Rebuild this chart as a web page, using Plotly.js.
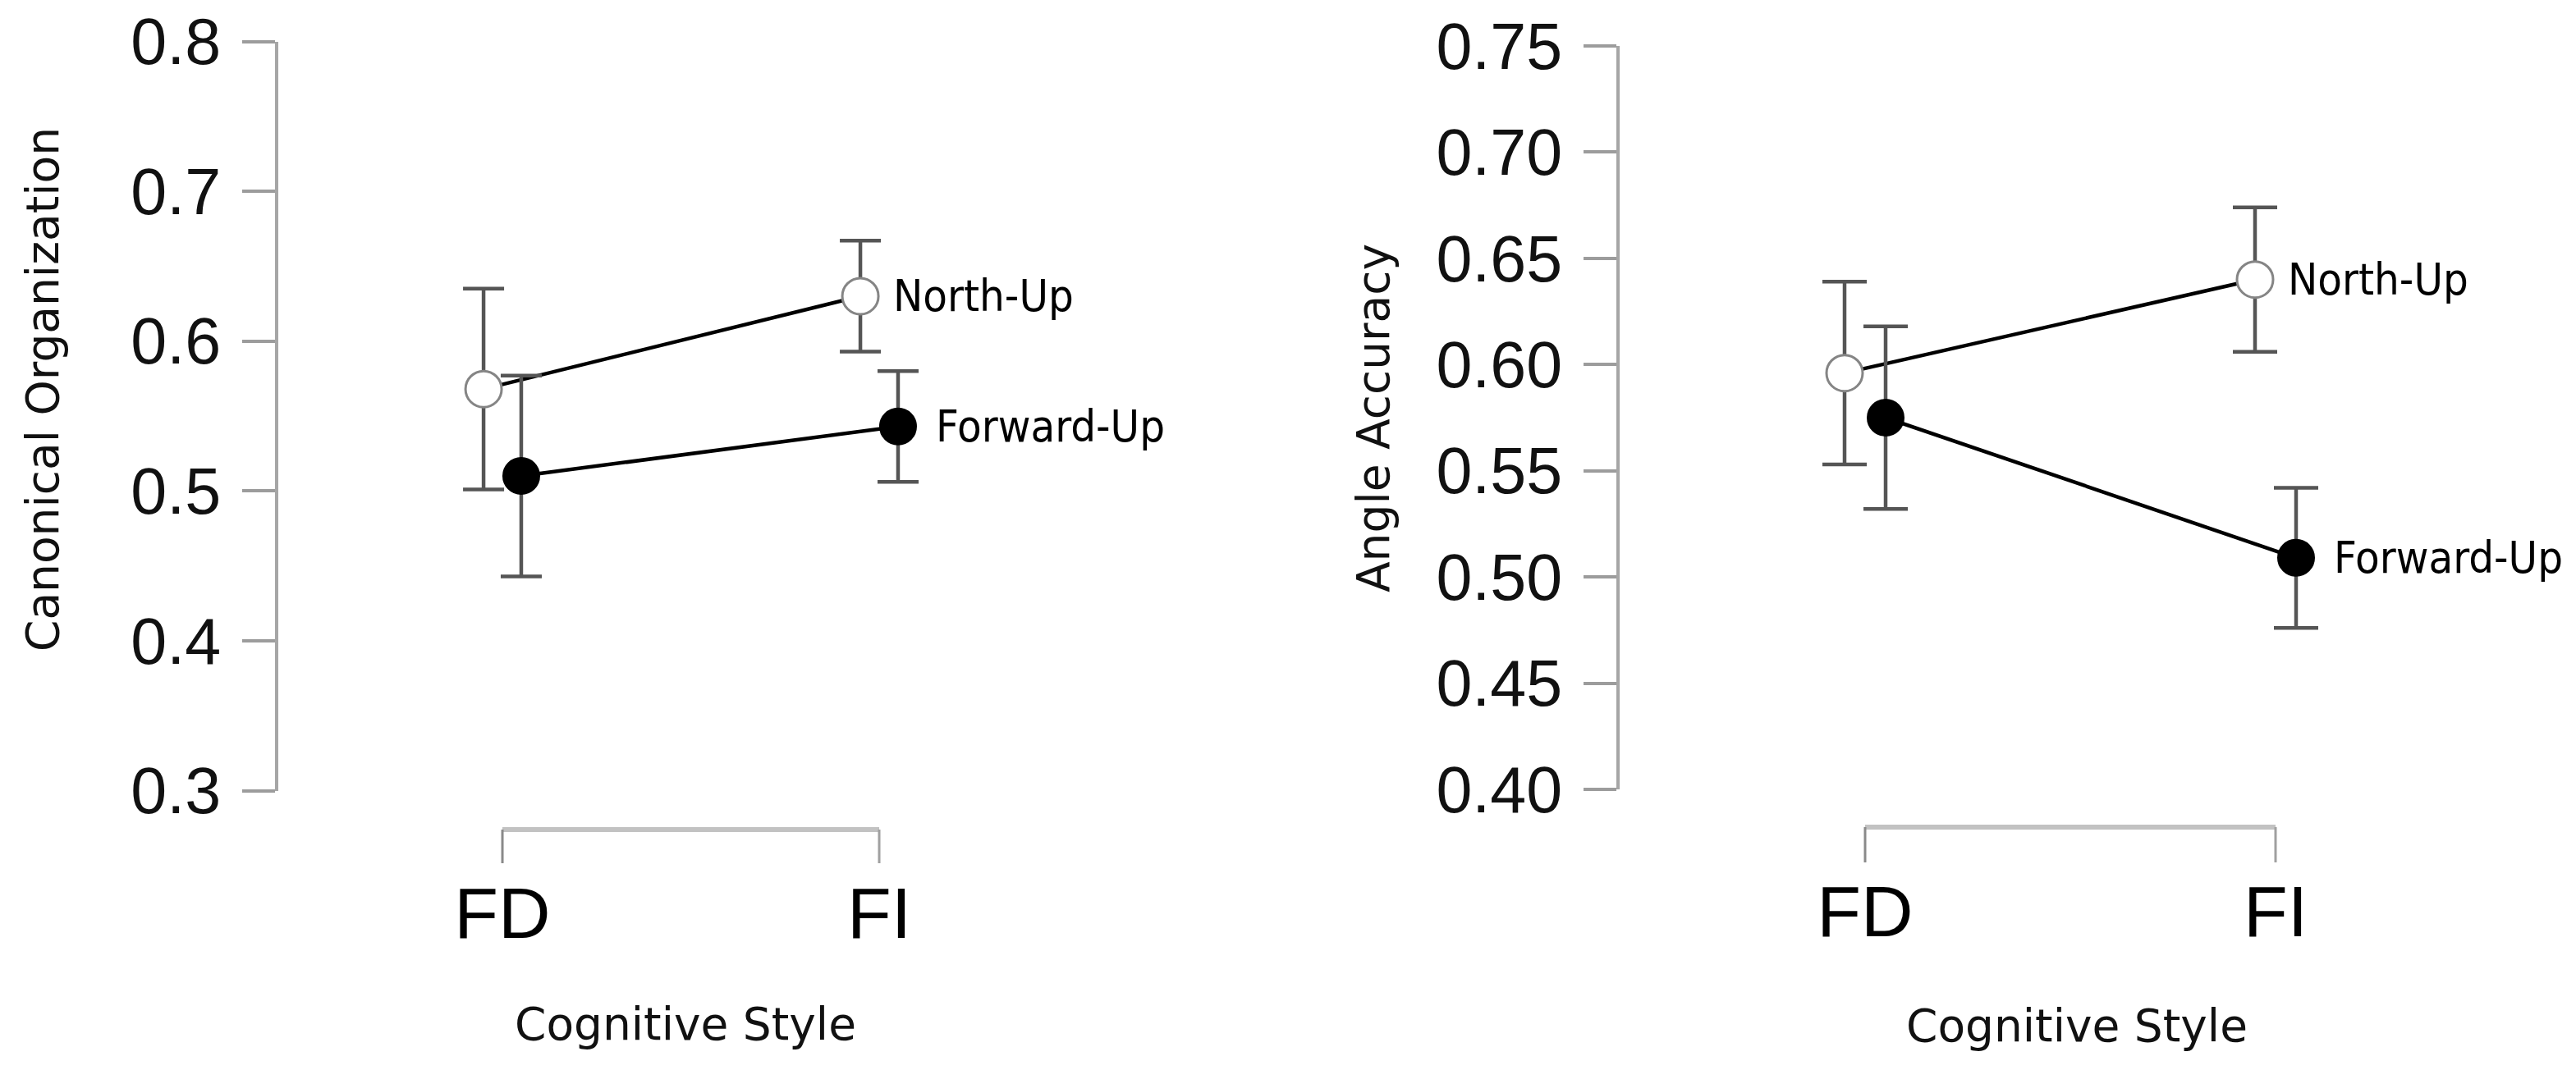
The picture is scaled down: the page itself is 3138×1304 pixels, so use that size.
<!DOCTYPE html>
<html>
<head>
<meta charset="utf-8">
<script src="https://cdn.plot.ly/plotly-3.0.1.min.js"></script>
<style>html,body{margin:0;padding:0;background:#fff;}#chart{width:3138px;height:1304px;}</style>
</head>
<body>
<div id="chart"></div>
<script>
// ---- data ----
const categories = ['FD', 'FI'];
const seriesNames = ['North-Up', 'Forward-Up'];
const xTitle = 'Cognitive Style';
const leftTitle = 'Canonical Organization';
const rightTitle = 'Angle Accuracy';

const canonNorth = [0.568, 0.630];
const canonNorthErr = [0.067, 0.037];
const canonForward = [0.510, 0.543];
const canonForwardErr = [0.067, 0.037];

const angleNorth = [0.596, 0.640];
const angleNorthErr = [0.043, 0.034];
const angleForward = [0.575, 0.509];
const angleForwardErr = [0.043, 0.033];

const canonTicks = [0.3, 0.4, 0.5, 0.6, 0.7, 0.8];
const angleTicks = [0.40, 0.45, 0.50, 0.55, 0.60, 0.65, 0.70, 0.75];

// ---- styling / layout helpers ----
const W = 3138, H = 1304;
const py = px => 1 - px / H;   // pixel row -> paper y
const pxX = px => px / W;      // pixel col -> paper x
const dodge = [-0.05, 0.05];
const catIdx = categories.map((c, i) => i);

const tickFont = {family: 'Liberation Sans, Arial, sans-serif', size: 79, color: '#111'};
const catFont = {family: 'Liberation Sans Narrow, Liberation Sans, sans-serif', size: 88, color: '#000'};
const titleFont = {family: 'DejaVu Sans, sans-serif', size: 55, color: '#111'};
const labelFont = {family: 'DejaVu Sans Condensed, DejaVu Sans, sans-serif', size: 54, color: '#000'};

function mkTrace(vals, errs, s, xa, ya, capW) {
  const open = s === 0;
  return {
    type: 'scatter', mode: 'lines+markers', name: seriesNames[s],
    x: catIdx.map(i => i + dodge[s]), y: vals,
    xaxis: xa, yaxis: ya, showlegend: false,
    line: {color: '#000', width: 4.5},
    marker: {symbol: 'circle', size: 44,
      color: open ? '#fff' : '#000',
      line: {color: open ? '#858585' : '#000', width: open ? 3 : 2}},
    error_y: {type: 'data', array: errs, visible: true, color: '#555', thickness: 4.5, width: capW},
    cliponaxis: false
  };
}

const traces = [
  mkTrace(canonNorth, canonNorthErr, 0, 'x', 'y', 25),
  mkTrace(canonForward, canonForwardErr, 1, 'x', 'y', 25),
  mkTrace(angleNorth, angleNorthErr, 0, 'x2', 'y2', 27),
  mkTrace(angleForward, angleForwardErr, 1, 'x2', 'y2', 27)
];

function yAxis(ticks, fmt, dom, anchor) {
  return {
    domain: dom, anchor: anchor,
    range: [ticks[0], ticks[ticks.length - 1]],
    tickvals: ticks, tickformat: fmt,
    showgrid: false, zeroline: false,
    showline: true, linecolor: '#a6a6a6', linewidth: 4,
    ticks: 'outside', ticklen: 40, tickwidth: 4, tickcolor: '#9c9c9c',
    tickfont: tickFont, ticklabelstandoff: 10, automargin: false, fixedrange: true
  };
}
function xAxis(range, dom, anchor) {
  return {
    domain: dom, anchor: anchor, range: range,
    tickvals: catIdx, ticktext: categories,
    showgrid: false, zeroline: false, showline: false, ticks: '',
    tickfont: catFont, ticklabelstandoff: 90, automargin: false, fixedrange: true
  };
}

// bracket-style x axis
function bracket(xa, yTop, yBot) {
  const first = catIdx[0], last = catIdx[catIdx.length - 1];
  return [
    {type: 'line', xref: xa, yref: 'paper', x0: first, x1: last, y0: py(yTop), y1: py(yTop), line: {color: '#c2c2c2', width: 6}},
    {type: 'line', xref: xa, yref: 'paper', x0: first, x1: first, y0: py(yTop), y1: py(yBot), line: {color: '#8a8a8a', width: 3}},
    {type: 'line', xref: xa, yref: 'paper', x0: last, x1: last, y0: py(yTop), y1: py(yBot), line: {color: '#a0a0a0', width: 3}}
  ];
}

function endLabel(vals, s, xa, ya, shift) {
  const i = vals.length - 1;
  return {xref: xa, yref: ya, x: catIdx[i] + dodge[s], y: vals[i], text: seriesNames[s],
    showarrow: false, xanchor: 'left', yanchor: 'middle', xshift: shift, font: labelFont};
}

const annotations = [
  {xref: 'paper', yref: 'paper', x: pxX(52), y: py(475), text: leftTitle, textangle: -90, showarrow: false,
   xanchor: 'center', yanchor: 'middle', font: titleFont},
  {xref: 'paper', yref: 'paper', x: pxX(1673), y: py(510), text: rightTitle, textangle: -90, showarrow: false,
   xanchor: 'center', yanchor: 'middle', font: titleFont},
  {xref: 'paper', yref: 'paper', x: pxX(835), y: py(1248), text: xTitle, showarrow: false,
   xanchor: 'center', yanchor: 'middle', font: titleFont},
  {xref: 'paper', yref: 'paper', x: pxX(2530), y: py(1250), text: xTitle, showarrow: false,
   xanchor: 'center', yanchor: 'middle', font: titleFont},
  endLabel(canonNorth, 0, 'x', 'y', 38),
  endLabel(canonForward, 1, 'x', 'y', 44),
  endLabel(angleNorth, 0, 'x2', 'y2', 38),
  endLabel(angleForward, 1, 'x2', 'y2', 44)
];

const layout = {
  width: W, height: H,
  margin: {l: 0, r: 0, t: 0, b: 0, pad: 0},
  paper_bgcolor: '#fff', plot_bgcolor: '#fff',
  showlegend: false,
  xaxis: xAxis([-0.5948, 1.5664], [339 / W, 1331 / W], 'y'),
  yaxis: yAxis(canonTicks, '.1f', [py(963.5), py(50.5)], 'x'),
  xaxis2: xAxis([-0.598, 1.64], [1973 / W, 3092 / W], 'y2'),
  yaxis2: yAxis(angleTicks, '.2f', [py(962), py(56)], 'x2'),
  shapes: [].concat(bracket('x', 1011, 1052), bracket('x2', 1008, 1051)),
  annotations: annotations
};

Plotly.newPlot('chart', traces, layout, {displayModeBar: false, staticPlot: true});
</script>
</body>
</html>
